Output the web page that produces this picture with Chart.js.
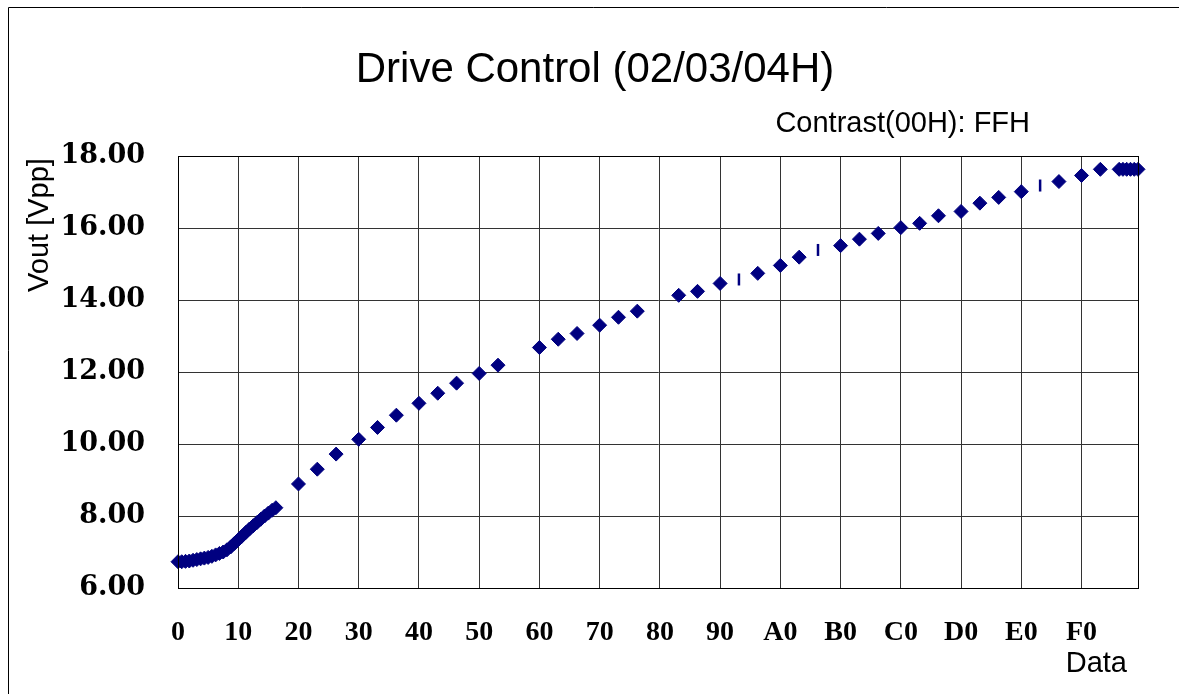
<!DOCTYPE html>
<html>
<head>
<meta charset="utf-8">
<script src="https://cdn.jsdelivr.net/npm/chart.js@4.4.1/dist/chart.umd.min.js"></script>
<style>
  html, body { margin: 0; padding: 0; background: #fff; }
  #wrap { width: 1179px; height: 694px; position: relative; }
</style>
</head>
<body>
<div id="wrap"><canvas id="driveChart" width="1179" height="694"></canvas></div>
<script>
// data (x = register data, y = Vout)
const dataX = [
  0x00, 0x01, 0x02, 0x03, 0x04, 0x05, 0x06, 0x07, 0x08, 0x09, 0x0A, 0x0B, 0x0C, 0x0D,
  0x0E, 0x0F, 0x10, 0x11, 0x12, 0x13, 0x14, 0x15, 0x16, 0x17, 0x18, 0x19, 0x1A,
  0x20, 0x25, 0x2A, 0x30, 0x35, 0x3A, 0x40, 0x45, 0x4A, 0x50, 0x55,
  0x60, 0x65, 0x6A, 0x70, 0x75, 0x7A, 0x85, 0x8A, 0x90, 0x9A,
  0xA0, 0xA5, 0xB0, 0xB5, 0xBA, 0xC0, 0xC5, 0xCA, 0xD0, 0xD5, 0xDA, 0xE0, 0xEA,
  0xF0, 0xF5, 0xFA, 0xFB, 0xFC, 0xFD, 0xFE, 0xFF
];
const voutY = [
  6.73, 6.73, 6.74, 6.75, 6.77, 6.79, 6.81, 6.83, 6.85, 6.88, 6.92, 6.96, 7.00, 7.06,
  7.14, 7.24, 7.34, 7.44, 7.54, 7.64, 7.73, 7.82, 7.91, 8.00, 8.08, 8.16, 8.23,
  8.89, 9.30, 9.72, 10.13, 10.46, 10.80, 11.13, 11.41, 11.69, 11.96, 12.19,
  12.68, 12.91, 13.07, 13.30, 13.52, 13.69, 14.13, 14.24, 14.46, 14.74,
  14.96, 15.19, 15.51, 15.69, 15.85, 16.01, 16.13, 16.34, 16.46, 16.69, 16.85, 17.01, 17.29,
  17.46, 17.63, 17.63, 17.63, 17.63, 17.63, 17.63, 17.63
];
// a few points that show up as short dashes instead of diamonds
const dashX = [0x95, 0xAA, 0xE5];
const dashY = [14.57, 15.39, 17.18];

const xTickLabels = ['0', '10', '20', '30', '40', '50', '60', '70', '80', '90', 'A0', 'B0', 'C0', 'D0', 'E0', 'F0'];

const navy = '#000080';

// extra texts + frame, drawn straight on the canvas
const decoPlugin = {
  id: 'deco',
  afterDraw(chart) {
    const ctx = chart.ctx;
    const a = chart.chartArea;
    ctx.save();
    // outer frame (top + left)
    ctx.strokeStyle = '#000';
    ctx.lineWidth = 1;
    ctx.beginPath();
    ctx.moveTo(8.5, 694);
    ctx.lineTo(8.5, 7.5);
    ctx.lineTo(1179, 7.5);
    ctx.stroke();
    // plot box
    ctx.strokeRect(a.left + 0.5, a.top + 0.5, a.right - a.left, a.bottom - a.top);

    ctx.fillStyle = '#000';
    ctx.textBaseline = 'middle';
    ctx.textAlign = 'center';
    ctx.font = '42px "Liberation Sans", Arial, sans-serif';
    ctx.fillText('Drive Control (02/03/04H)', 595, 70);

    ctx.textAlign = 'right';
    ctx.font = '29px "Liberation Sans", Arial, sans-serif';
    ctx.fillText('Contrast(00H): FFH', 1030, 124);

    ctx.fillText('Data', 1127, 664);

    ctx.translate(40, 225);
    ctx.rotate(-Math.PI / 2);
    ctx.textAlign = 'center';
    ctx.fillText('Vout [Vpp]', 0, 0);
    ctx.restore();
  }
};

const config = {
  type: 'scatter',
  data: {
    datasets: [
      {
        label: 'Vout',
        data: dataX.map((x, i) => ({ x: x, y: voutY[i] })),
        pointStyle: 'rectRot',
        pointRadius: 7,
        pointHoverRadius: 7,
        backgroundColor: navy,
        borderColor: navy,
        borderWidth: 1,
        clip: false
      },
      {
        label: 'Vout (dash)',
        data: dashX.map((x, i) => ({ x: x, y: dashY[i] })),
        pointStyle: 'line',
        rotation: 90,
        pointRadius: 6,
        pointHoverRadius: 6,
        backgroundColor: navy,
        borderColor: navy,
        borderWidth: 2.5,
        clip: false
      }
    ]
  },
  options: {
    responsive: false,
    animation: false,
    events: [],
    layout: { padding: { top: 156, right: 41, bottom: 0, left: 0 } },
    plugins: {
      legend: { display: false },
      title: { display: false },
      tooltip: { enabled: false }
    },
    scales: {
      x: {
        type: 'linear',
        min: 0,
        max: 255,
        afterFit(scale) { scale.height = 106; },
        grid: { color: '#333', lineWidth: 1, drawTicks: false },
        border: { color: '#000', width: 1 },
        ticks: {
          stepSize: 16,
          includeBounds: false,
          autoSkip: false,
          maxRotation: 0,
          padding: 28,
          color: '#000',
          font: { family: '"Liberation Serif", "Times New Roman", serif', size: 28, weight: 'bold' },
          callback: (v, i) => xTickLabels[i]
        }
      },
      y: {
        min: 6,
        max: 18,
        afterFit(scale) { scale.width = 178; },
        grid: { color: '#333', lineWidth: 1, drawTicks: false },
        border: { color: '#000', width: 1 },
        ticks: {
          stepSize: 2,
          padding: 33,
          color: '#000',
          font: { family: '"DejaVu Serif", serif', size: 27, weight: 'bold' },
          callback: (v) => v.toFixed(2)
        }
      }
    }
  },
  plugins: [decoPlugin]
};

const driveChart = new Chart(document.getElementById('driveChart'), config);
</script>
</body>
</html>
